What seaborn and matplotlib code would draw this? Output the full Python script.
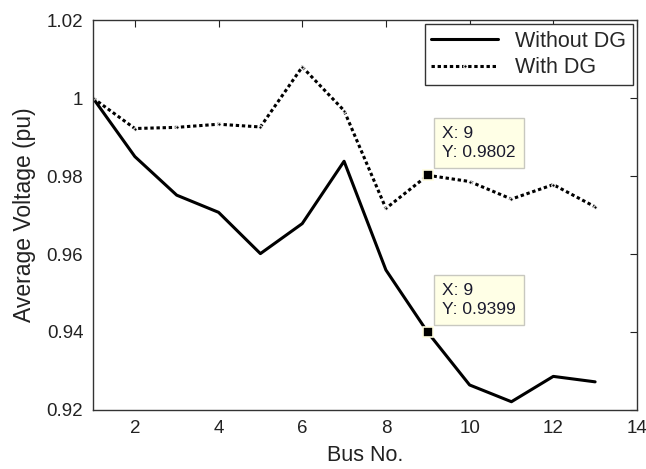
import numpy as np
import pandas as pd
import matplotlib
matplotlib.use("Agg")
import matplotlib.pyplot as plt
from matplotlib.ticker import FormatStrFormatter
import seaborn as sns

# ------------------------
# data
# ------------------------
bus = [1, 2, 3, 4, 5, 6, 7, 8, 9, 10, 11, 12, 13]
without_dg = [1.000, 0.985, 0.9751, 0.9707, 0.9601, 0.9678, 0.9838, 0.9559, 0.9399,
              0.9264, 0.9221, 0.9286, 0.9272]
with_dg = [1.000, 0.9922, 0.9925, 0.9933, 0.9926, 1.0080, 0.9968, 0.9717, 0.9802,
           0.9786, 0.9741, 0.9778, 0.9721]
tip_bus = 9
tip_without = 0.9399
tip_with = 0.9802

x_ticks = [2, 4, 6, 8, 10, 12, 14]
y_ticks = [0.92, 0.94, 0.96, 0.98, 1.00, 1.02]

sns.set_style("white")
plt.rcParams["font.family"] = ["Liberation Sans", "DejaVu Sans"]

fig = plt.figure(figsize=(6.46, 4.69), dpi=100)
ax = fig.add_axes([0.144, 0.126, 0.842, 0.831])

sns.lineplot(x=bus, y=without_dg, color="black", linewidth=2.2, label="Without DG", ax=ax)
sns.lineplot(x=bus, y=with_dg, color="black", linewidth=2.2, linestyle=(0, (1.1, 0.9)),
             marker=".", markersize=5, label="With DG", ax=ax)

# data tips
for yv in [tip_with, tip_without]:
    ax.plot(tip_bus, yv, marker="s", markersize=7.5, color="black",
            markeredgecolor="#fffde0", markeredgewidth=1.2, zorder=5)
    ax.annotate(f"X: {tip_bus}\nY: {yv:.4f}", xy=(tip_bus, yv), xytext=(10.5, 11),
                textcoords="offset points", ha="left", va="bottom", fontsize=12.5,
                color="#1a1a2e", linespacing=1.3,
                bbox=dict(boxstyle="square,pad=0.48", fc="#ffffe6", ec="#c8c8c0", lw=1))

ax.set_xlim(1, 14)
ax.set_ylim(0.92, 1.02)
ax.set_xticks(x_ticks)
ax.set_yticks(y_ticks)
ax.yaxis.set_major_formatter(FormatStrFormatter("%g"))
ax.tick_params(direction="in", top=True, right=True, length=5, width=0.8,
               labelsize=13.5, colors="#222222")
ax.tick_params(axis="x", pad=7)
ax.tick_params(axis="y", pad=7)
for s in ax.spines.values():
    s.set_color("#333333")
    s.set_linewidth(1)

ax.set_xlabel("Bus No.", fontsize=15.5, color="#222222", labelpad=6)
ax.set_ylabel("Average Voltage (pu)", fontsize=16.5, color="#222222", labelpad=8)

leg = ax.legend(loc="upper right", bbox_to_anchor=(1.0, 1.0), borderaxespad=0.2,
                fontsize=15.5, handlelength=3.1, fancybox=False, frameon=True,
                edgecolor="#333333", framealpha=1, borderpad=0.3, labelspacing=0.25)
leg.get_frame().set_linewidth(1)

fig.savefig("out.png", dpi=100)
